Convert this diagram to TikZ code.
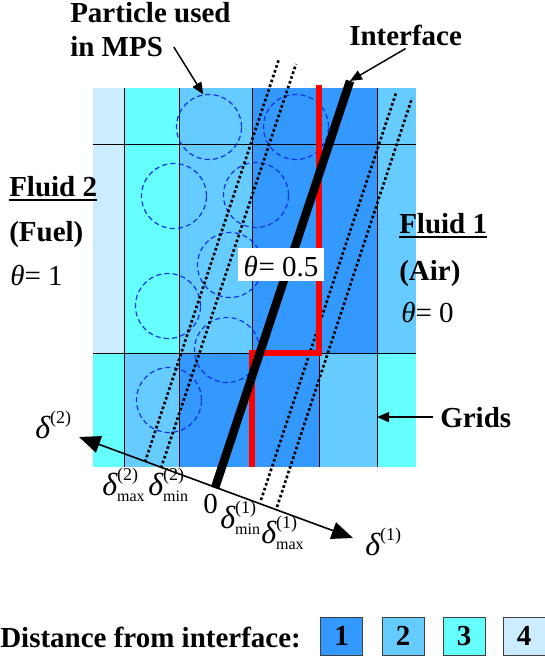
\documentclass[tikz,border=0pt]{standalone}
\usepackage{amsmath}
\usepackage{fontspec}
\setmainfont{Liberation Serif}
\usetikzlibrary{arrows.meta}
\definecolor{dist1}{HTML}{3399FF}
\definecolor{dist2}{HTML}{66CCFF}
\definecolor{dist3}{HTML}{66FFFF}
\definecolor{dist4}{HTML}{CCECFF}
\definecolor{ptblue}{HTML}{1030E8}
\newcommand{\thickul}[1]{\sbox0{#1}\rlap{\usebox0}\rule[-4.1pt]{\wd0}{2.2pt}}
\newcommand{\bigd}{\text{\fontsize{24}{24}\selectfont\itshape δ}}
\newcommand{\dsup}[1]{$\bigd^{\text{\fontsize{13.5}{14}\selectfont(#1)}}$}
\newcommand{\dlt}[2]{$\bigd^{\text{\fontsize{13.5}{14}\selectfont(#1)}}_{\text{\fontsize{12}{12}\selectfont #2}}$}

\begin{document}
\begin{tikzpicture}[x=0.75pt, y=-0.75pt,
  lbl/.style={inner sep=0pt, font=\fontsize{21.75}{25.5}\selectfont\bfseries},
  mlbl/.style={inner sep=0pt, font=\fontsize{21.75}{25.5}\selectfont},
  gridln/.style={black, line width=0.75pt},
  ptcl/.style={circle, draw=ptblue, line width=0.9pt, dash pattern=on 3.8pt off 2.4pt, minimum size=48.75pt, inner sep=0pt},
  dotln/.style={line width=2pt, dash pattern=on 2pt off 1.8pt},
  redln/.style={red, line width=4pt},
  ifc/.style={line width=6.4pt},
  arr/.style={-{Triangle[length=9pt, width=7.5pt]}, line width=1.1pt},
  axarr/.style={{Triangle[length=16pt, width=13pt]}-{Triangle[length=16pt, width=13pt]}, line width=1.2pt},
  keybox/.style={draw=black!75, line width=0.75pt, minimum width=31.5pt, minimum height=28.5pt, inner sep=0pt, font=\fontsize{21.75}{25.5}\selectfont\bfseries}]
\useasboundingbox (0,0) rectangle (545,659);
\fill[dist4] (93,88) rectangle (124,353);
\fill[dist3] (124,88) rectangle (179,353);
\fill[dist2] (179,88) rectangle (252,353);
\fill[dist1] (252,88) rectangle (377,353);
\fill[dist2] (377,88) rectangle (416,353);
\fill[dist3] (93,353) rectangle (124,467);
\fill[dist2] (124,353) rectangle (179,467);
\fill[dist1] (179,353) rectangle (319,467);
\fill[dist2] (319,353) rectangle (377,467);
\fill[dist3] (377,353) rectangle (416,467);
\draw[gridln] (93,145) -- (416,145) (93,353) -- (416,353);
\draw[gridln] (124,88) -- (124,467) (179,88) -- (179,467) (377,88) -- (377,467);
\draw[gridln] (252,88) -- (252,353) (319,353) -- (319,467);
\node[ptcl] (c1) at (209,127) {};
\node[ptcl] (c2) at (296,127) {};
\node[ptcl] (c3) at (174,196) {};
\node[ptcl] (c4) at (256,195) {};
\node[ptcl] (c5) at (230,265) {};
\node[ptcl] (c6) at (168,306) {};
\node[ptcl] (c7) at (227,350) {};
\node[ptcl] (c8) at (169,400) {};
\draw[dotln] (145,462) -- (279,59);
\draw[dotln] (161,468) -- (296,64);
\draw[dotln] (261,500) -- (396,93);
\draw[dotln] (277,507) -- (412,98);
\draw[redln] (319,85) -- (319,353) -- (252,353) -- (252,467);
\coordinate (o) at (215,488);
\coordinate (itop) at (350,81);
\draw[ifc] (o) -- (itop);
\coordinate (d2end) at (79,437);
\coordinate (d1end) at (353,538);
\draw[axarr] (d2end) -- (d1end);
\node[mlbl, fill=white, anchor=base west, inner xsep=4pt, text height=21pt, text depth=3.75pt] (half) at (238,276) {\textit{θ}\hspace{0.5pt}= 0.5};
\node[lbl, anchor=base west] (pl1) at (70,23) {Particle used};
\node[lbl, anchor=base west] (pl2) at (70,57) {in MPS};
\node[lbl, anchor=base west] (ilab) at (349,46) {Interface};
\node[lbl, anchor=base west] (fl2) at (9,196) {\thickul{Fluid 2}};
\node[lbl, anchor=base west] (fuel) at (9,241) {(Fuel)};
\node[mlbl, anchor=base west] (th1) at (10,285) {\textit{θ}= 1};
\node[lbl, anchor=base west] (fl1) at (399,233) {\thickul{Fluid 1}};
\node[lbl, anchor=base west] (air) at (399,280) {(Air)};
\node[mlbl, anchor=base west] (th0) at (401,322) {\textit{θ}= 0};
\node[lbl, anchor=base west] (grids) at (440,427) {Grids};
\coordinate (gline) at (377,416);
\draw[arr] ([xshift=8pt]pl2.east) -- (c1.100);
\draw[arr] ([yshift=-1.5pt]ilab.south) -- (itop);
\draw[arr] ([xshift=-5pt]grids.west) -- (grids.west -| gline);
\node[mlbl, anchor=base west] (d2lab) at (35,438) {\dsup{2}};
\node[mlbl, anchor=base west] (d1lab) at (365,555) {\dsup{1}};
\node[mlbl, anchor=base west] (dmax2) at (102,495) {\dlt{2}{max}};
\node[mlbl, anchor=base west] (dmin2) at (148,495) {\dlt{2}{min}};
\node[mlbl, anchor=base west] (zero) at (203,513) {0};
\node[mlbl, anchor=base west] (dmin1) at (220,528) {\dlt{1}{min}};
\node[mlbl, anchor=base west] (dmax1) at (261,543) {\dlt{1}{max}};
\node[lbl, anchor=base west] (dist) at (0,647) {Distance from interface:};
\node[keybox, fill=dist1] (k1) at (341.5,636) {1};
\node[keybox, fill=dist2] (k2) at (403,636) {2};
\node[keybox, fill=dist3] (k3) at (464,636) {3};
\node[keybox, fill=dist4] (k4) at (524,636) {4};
\end{tikzpicture}
\end{document}
